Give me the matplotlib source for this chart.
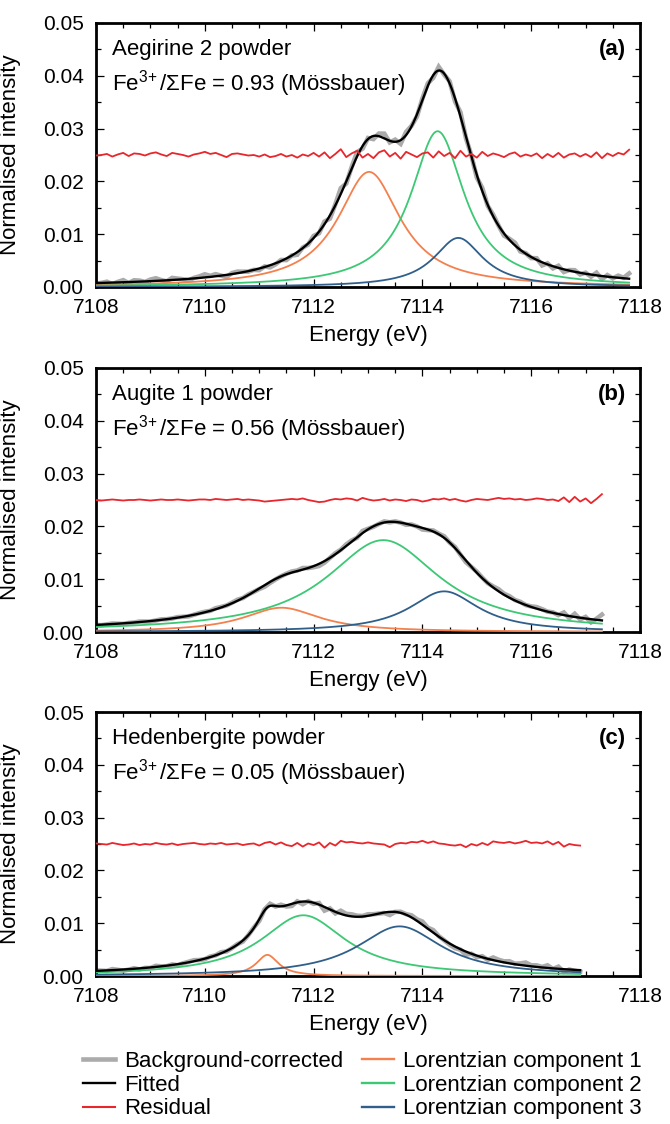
import numpy as np
import matplotlib
matplotlib.use("Agg")
import matplotlib.pyplot as plt
from matplotlib.lines import Line2D
from matplotlib.ticker import MultipleLocator

plt.rcParams['font.family'] = ['Liberation Sans', 'DejaVu Sans']
plt.rcParams['mathtext.fontset'] = 'custom'
plt.rcParams['mathtext.rm'] = 'Liberation Sans'
plt.rcParams['mathtext.it'] = 'Liberation Sans:italic'
plt.rcParams['mathtext.bf'] = 'Liberation Sans:bold'

# ---------------- data ----------------
panel_tags = ['(a)', '(b)', '(c)']
sample_names = ['Aegirine 2 powder', 'Augite 1 powder', 'Hedenbergite powder']
fe_ratios = ['0.93', '0.56', '0.05']

# energy range of measured data per panel (eV)
energy_start = [7108.0, 7108.0, 7108.0]
energy_end = [7117.8, 7117.3, 7116.9]
energy_step = 0.1

# fitted Lorentzian components: centre (eV), peak height, half width (eV)
centres_a = [7113.02, 7114.28, 7114.66]
heights_a = [0.0218, 0.0295, 0.0093]
hwhm_a = [0.70, 0.60, 0.55]

centres_b = [7111.41, 7113.28, 7114.40]
heights_b = [0.0046, 0.0174, 0.0077]
hwhm_b = [0.85, 1.27, 0.78]

centres_c = [7111.15, 7111.81, 7113.58]
heights_c = [0.0040, 0.0115, 0.0094]
hwhm_c = [0.25, 0.95, 0.95]

# residual (data - fit), units of 1e-4, one value per 0.1 eV from 7108.0
residual_a = [-1, 0, 2, -3, 1, 4, -2, 3, 2, -1,
              3, 5, 1, -2, 4, 2, 0, -3, 1, 3,
              6, 2, 4, 0, -4, 2, 3, 1, -1, 0,
              -3, 1, -4, -2, 2, -3, 0, -5, 1, -2,
              4, -3, 5, -6, 2, 11, -4, 3, 8, -5,
              2, -6, 5, 9, -3, 4, -7, 6, 1, -4,
              3, 5, -5, 7, -2, 4, -6, 8, -3, 2,
              -5, 6, -2, 3, 0, -4, 2, 5, -3, 1,
              -2, 3, -6, 2, -4, 4, -5, 1, 3, -3,
              2, -4, 5, -6, 3, -2, 4, 1, 10]
residual_b = [0, -1, 0, 1, 0, -1, 0, 0, 1, 0,
              -1, 0, 1, 0, 0, 1, 0, -1, 0, 1,
              1, 0, 2, 1, 0, 1, 2, 0, 1, 0,
              -1, -3, -2, -1, 0, 1, 2, 1, 3, 0,
              -2, -4, -3, 0, 2, 1, 3, 2, -1, 4,
              1, -1, 0, 2, -1, 1, 0, -2, 1, 0,
              -3, -1, 2, 1, 3, 0, 2, -1, -3, 0,
              2, 1, 0, 2, 4, 2, 3, 1, 2, 0,
              1, 3, 2, 0, 1, -2, 5, -4, 6, -3,
              3, -6, 2, 11]
residual_c = [1, 0, -1, 2, 0, -2, -1, 1, -2, 0,
              -1, 2, 0, -1, 1, -2, 0, 1, 2, 0,
              -1, 1, 0, 2, -1, 0, 1, -2, 0, 1,
              -3, 2, 4, -1, 3, -2, -4, 2, -5, 1,
              -2, 3, -7, 2, -3, 6, 3, 4, 2, 1,
              3, 1, 0, -1, -6, 0, 2, 1, 4, 3,
              6, 2, 5, 1, 0, -2, -3, -1, -6, 0,
              -3, 2, -2, 5, 3, 2, 4, 1, 3, 6,
              2, 3, 1, 5, -1, 4, -5, 0, -2, -3]
residual_offset = 0.025

x_ticks = [7108, 7110, 7112, 7114, 7116, 7118]
y_ticks = [0.00, 0.01, 0.02, 0.03, 0.04, 0.05]

legend_labels = ['Background-corrected', 'Fitted', 'Residual',
                 'Lorentzian component 1', 'Lorentzian component 2',
                 'Lorentzian component 3']

# ---------------- style ----------------
c_gray = '#ababab'
c_black = '#000000'
c_red = '#e8262c'
comp_colors = ['#f4804e', '#3cc874', '#2f5f8a']

params = [(centres_a, heights_a, hwhm_a, residual_a),
          (centres_b, heights_b, hwhm_b, residual_b),
          (centres_c, heights_c, hwhm_c, residual_c)]


def lorentz(x, x0, h, g):
    return h * g ** 2 / ((x - x0) ** 2 + g ** 2)


fig = plt.figure(figsize=(6.7, 11.24), dpi=100)
W, H = 670.0, 1124.0
ax_left, ax_right = 96, 640
bottoms_px = [287, 632, 976]
ax_h = 264

for i in range(3):
    ax = fig.add_axes([ax_left / W, 1 - bottoms_px[i] / H,
                       (ax_right - ax_left) / W, ax_h / H])
    cen, hei, hw, res = params[i]
    n = len(res)
    xd = energy_start[i] + energy_step * np.arange(n)
    xf = np.linspace(energy_start[i], xd[-1], 600)
    comps_f = [lorentz(xf, cen[k], hei[k], hw[k]) for k in range(3)]
    fit_f = np.sum(comps_f, axis=0)
    fit_d = np.sum([lorentz(xd, cen[k], hei[k], hw[k]) for k in range(3)], axis=0)
    dev = np.array(res) * 1e-4
    data = fit_d + dev

    ax.plot(xd, data, color=c_gray, lw=3.3, solid_joinstyle='miter', zorder=2)
    for k in range(3):
        ax.plot(xf, comps_f[k], color=comp_colors[k], lw=1.3, zorder=3)
    ax.plot(xf, fit_f, color=c_black, lw=1.7, zorder=4)
    ax.plot(xd, residual_offset + dev, color=c_red, lw=1.3, zorder=5)

    ax.set_xlim(7108, 7118)
    ax.set_ylim(0, 0.05)
    ax.set_xticks(x_ticks)
    ax.set_yticks(y_ticks)
    ax.set_yticklabels(['%.2f' % v for v in y_ticks])
    ax.xaxis.set_minor_locator(MultipleLocator(0.5))
    ax.yaxis.set_minor_locator(MultipleLocator(0.005))
    ax.tick_params(which='both', direction='in', top=True, right=True,
                   labelsize=15, width=0.9)
    ax.tick_params(which='major', length=5.5)
    ax.tick_params(which='minor', length=3.5)
    ax.tick_params(axis='x', which='major', pad=8)
    ax.tick_params(axis='y', which='major', pad=9)
    for s in ax.spines.values():
        s.set_linewidth(2.0)

    ax.set_ylabel('Normalised intensity', fontsize=16)
    ax.yaxis.set_label_coords(-0.138, 0.5)
    ax.set_xlabel('Energy (eV)', fontsize=16)
    ax.xaxis.set_label_coords(0.5, -0.145)

    ax.text(0.03, 0.90, sample_names[i], transform=ax.transAxes,
            fontsize=16, ha='left', va='center')
    ax.text(0.03, 0.77,
            'Fe$^{\\mathregular{3\\!+}}$/\u03a3Fe = %s (M\u00f6ssbauer)' % fe_ratios[i],
            transform=ax.transAxes, fontsize=16, ha='left', va='center')
    ax.text(0.974, 0.90, panel_tags[i], transform=ax.transAxes,
            fontsize=16, fontweight='bold', ha='right', va='center')

handles = [Line2D([], [], color=c_gray, lw=3.3),
           Line2D([], [], color=c_black, lw=1.7),
           Line2D([], [], color=c_red, lw=1.5)] + \
          [Line2D([], [], color=c, lw=1.7) for c in comp_colors]
fig.legend(handles, legend_labels, loc='upper left',
           bbox_to_anchor=(83 / W, 1 - 1051 / H), ncol=2, frameon=False,
           fontsize=16, handlelength=1.45, handletextpad=0.4,
           columnspacing=0.85, labelspacing=0.12, borderpad=0,
           borderaxespad=0)

fig.savefig('out.png', dpi=100)
